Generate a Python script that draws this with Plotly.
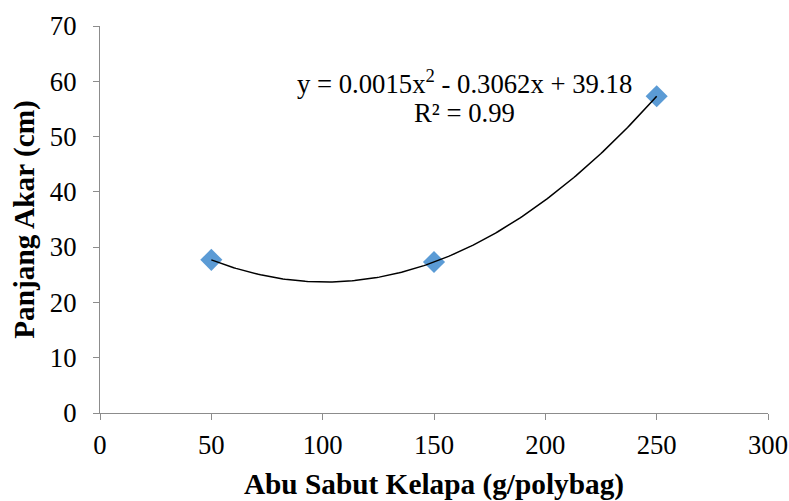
import numpy as np
import plotly.graph_objects as go

x_vals = [50, 150, 250]
y_vals = [27.7, 27.3, 57.3]
x_ticks = [0, 50, 100, 150, 200, 250, 300]
y_ticks = [0, 10, 20, 30, 40, 50, 60, 70]
eq_line1 = "y = 0.0015x<sup>2</sup> - 0.3062x + 39.18"
eq_line2 = "R² = 0.99"

coef = np.polyfit(x_vals, y_vals, 2)
xf = np.linspace(min(x_vals), max(x_vals), 200)
yf = np.polyval(coef, xf)

font = "Liberation Serif, Times New Roman, serif"

fig = go.Figure()
fig.add_trace(go.Scatter(x=x_vals, y=y_vals, mode="markers",
                         marker=dict(symbol="diamond", size=17, color="#5B9BD5"),
                         showlegend=False))
fig.add_trace(go.Scatter(x=xf, y=yf, mode="lines",
                         line=dict(color="black", width=1.5), showlegend=False))

axis_common = dict(showgrid=False, zeroline=False, showline=True, linecolor="#8c8c8c",
                   linewidth=1.3, ticks="outside", ticklen=6, tickcolor="#8c8c8c",
                   tickwidth=1.3, automargin=False,
                   tickfont=dict(family=font, size=26.7, color="black"))

fig.update_xaxes(range=[0, 300], tickvals=x_ticks, ticklabelstandoff=2,
                 title=dict(text="<b>Abu Sabut Kelapa (g/polybag)</b>",
                            font=dict(family=font, size=29.3, color="black"), standoff=19),
                 **axis_common)
fig.update_yaxes(range=[0, 70], tickvals=y_ticks, ticklabelstandoff=11,
                 title=dict(text="<b>Panjang Akar (cm)</b>",
                            font=dict(family=font, size=29.3, color="black"), standoff=6),
                 **axis_common)

fig.add_annotation(x=0.5464, y=0.855, xref="paper", yref="paper", text=eq_line1,
                   showarrow=False, xanchor="center", yanchor="middle",
                   font=dict(family=font, size=26.7, color="black"))
fig.add_annotation(x=0.5464, y=0.775, xref="paper", yref="paper", text=eq_line2,
                   showarrow=False, xanchor="center", yanchor="middle",
                   font=dict(family=font, size=26.7, color="black"))

fig.update_layout(width=789, height=501, margin=dict(l=100, r=21, t=26, b=88),
                  plot_bgcolor="white", paper_bgcolor="white")

fig.write_html("out.html", config={"displayModeBar": False},
               post_script="document.body.style.margin='0';"
                           "document.documentElement.style.overflow='hidden';"
                           "document.body.style.overflow='hidden';")
